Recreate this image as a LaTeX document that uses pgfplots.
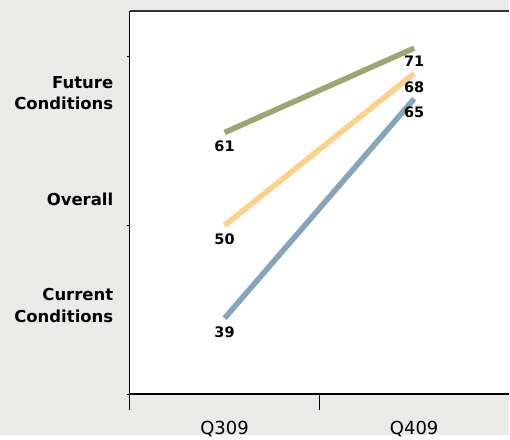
\documentclass[border=0pt]{standalone}
\usepackage{pgfplots}
\pgfplotsset{compat=1.18}
\usetikzlibrary{backgrounds,calc}
\usepackage{fontspec}
\setmainfont{DejaVu Sans}
\definecolor{bg}{HTML}{EAEAE8}
\definecolor{cgreen}{HTML}{9BA673}
\definecolor{corange}{HTML}{FFD08A}
\definecolor{cblue}{HTML}{84A5BB}
\begin{document}
\begin{tikzpicture}[x=1pt,y=1pt]
\begin{axis}[
  scale only axis, width=380pt, height=384pt,
  xmin=0.5, xmax=2.5, ymin=30, ymax=75.4,
  axis x line*=bottom, axis y line*=left,
  x axis line style={-, line width=2pt, black},
  y axis line style={-, line width=1.2pt, black},
  axis background/.style={fill=white},
  xtick={1,2}, xticklabels={Q309,Q409},
  major x tick style={draw=none},
  xticklabel style={font=\fontsize{18}{20}\selectfont, yshift=-20pt},
  extra x ticks={0.5,1.5}, extra x tick labels={},
  extra x tick style={major tick length=16pt, tick align=outside, major x tick style={draw=black, line width=1.2pt}},
  ytick={30,50,70}, yticklabels={},
  major y tick style={black, line width=0.8pt},
  tick align=outside, major tick length=3pt,
  extra y ticks={40.5,53.1,65.7},
  extra y tick labels={{Current\\Conditions},{Overall},{Future\\Conditions}},
  extra y tick style={major tick length=0pt, yticklabel style={font=\fontsize{16.5}{21.5}\selectfont\bfseries, align=right, xshift=-13pt}},
  clip=false,
  nodes near coords, point meta=explicit symbolic,
  every node near coord/.append style={font=\fontsize{14.5}{17}\selectfont\bfseries, anchor=north, black, yshift=-2pt},
]
\addplot[cgreen, line width=5.5pt] coordinates {(1,61)[61] (2,71)[71]};
\addplot[corange, line width=5.5pt] coordinates {(1,50)[50] (2,68)[68]};
\addplot[cblue, line width=5.5pt] coordinates {(1,39)[39] (2,65)[65]};
\draw[line width=1.5pt, black!80] (rel axis cs:0,1) -- (rel axis cs:1,1);
\coordinate (O) at (rel axis cs:0,0);
\end{axis}
\begin{scope}[on background layer]
\fill[bg] ($(O)+(-130,-41)$) rectangle ($(O)+(380,395)$);
\end{scope}
\end{tikzpicture}
\end{document}
